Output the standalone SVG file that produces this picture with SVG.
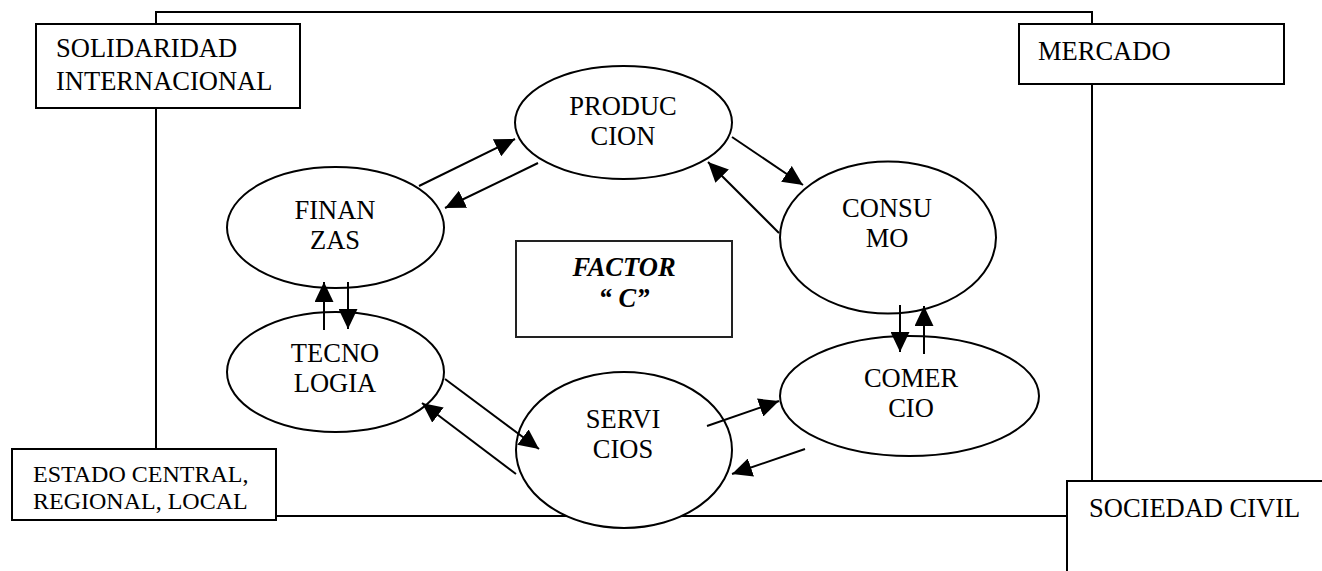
<svg xmlns="http://www.w3.org/2000/svg" width="1322" height="571" viewBox="0 0 1322 571">
<defs>
<style>
.ln{stroke:#000;stroke-width:2;fill:none}
.bx{stroke:#000;stroke-width:2;fill:#fff}
.el{stroke:#000;stroke-width:2;fill:#fff}
.t{font-family:"Liberation Serif","Times New Roman",serif;font-size:26.5px;fill:#000}
.tc{text-anchor:middle}
.ar{stroke:#000;stroke-width:2;fill:none;marker-end:url(#ah)}
.fc{font-weight:bold;font-style:italic}
</style>
<marker id="ah" markerUnits="userSpaceOnUse" markerWidth="21" markerHeight="19" refX="20" refY="9.5" orient="auto" viewBox="0 0 21 19">
<path d="M0,0 L20,9.5 L0,19 z" fill="#000"/>
</marker>
</defs>
<rect width="1322" height="571" fill="#fff"/>
<g id="frame">
<rect class="ln" x="156" y="12" width="936" height="504"/>
</g>
<g id="solidaridad">
<rect class="bx" x="36" y="24" width="264" height="84"/>
<text class="t" x="56" y="57">SOLIDARIDAD</text>
<text class="t" x="56" y="90">INTERNACIONAL</text>
</g>
<g id="mercado">
<rect class="bx" x="1019" y="24" width="265" height="60"/>
<text class="t" x="1038" y="60">MERCADO</text>
</g>
<g id="estado">
<rect class="bx" x="12" y="449" width="264" height="71"/>
<text class="t" x="33" y="482" style="font-size:24px">ESTADO CENTRAL,</text>
<text class="t" x="33" y="509" style="font-size:24px">REGIONAL, LOCAL</text>
</g>
<g id="sociedad">
<rect class="bx" x="1067" y="481" width="270" height="110"/>
<text class="t" x="1089" y="517">SOCIEDAD CIVIL</text>
</g>
<g id="factor">
<rect class="bx" x="516" y="241" width="216" height="96" style="stroke:#222"/>
<text class="t tc fc" x="624" y="276">FACTOR</text>
<text class="t tc fc" x="624" y="307">“ C”</text>
</g>
<g id="produccion">
<ellipse class="el" cx="623.5" cy="122.5" rx="108.5" ry="56.5"/>
<text class="t tc" x="623" y="115">PRODUC</text>
<text class="t tc" x="623" y="145">CION</text>
</g>
<g id="finanzas">
<ellipse class="el" cx="335.5" cy="227.5" rx="108.5" ry="60.5"/>
<text class="t tc" x="335" y="219">FINAN</text>
<text class="t tc" x="335" y="249">ZAS</text>
</g>
<g id="tecnologia">
<ellipse class="el" cx="335.5" cy="372" rx="108.5" ry="60"/>
<text class="t tc" x="335" y="362">TECNO</text>
<text class="t tc" x="335" y="392">LOGIA</text>
</g>
<g id="servicios">
<ellipse class="el" cx="624" cy="450" rx="108" ry="78"/>
<text class="t tc" x="623" y="428">SERVI</text>
<text class="t tc" x="623" y="458">CIOS</text>
</g>
<g id="consumo">
<ellipse class="el" cx="888" cy="237.5" rx="108" ry="76"/>
<text class="t tc" x="887" y="217">CONSU</text>
<text class="t tc" x="887" y="247">MO</text>
</g>
<g id="comercio">
<ellipse class="el" cx="909.5" cy="396" rx="129.5" ry="60"/>
<text class="t tc" x="911" y="387">COMER</text>
<text class="t tc" x="911" y="417">CIO</text>
</g>
<g id="connectors">
<line class="ar" x1="419" y1="186" x2="515" y2="139"/>
<line class="ar" x1="538" y1="163" x2="445" y2="208"/>
<line class="ar" x1="732" y1="137" x2="803" y2="185"/>
<line class="ar" x1="779" y1="233" x2="708" y2="162"/>
<line class="ar" x1="324" y1="330" x2="324" y2="282"/>
<line class="ar" x1="348" y1="282" x2="348" y2="329"/>
<line class="ar" x1="900" y1="305" x2="900" y2="352"/>
<line class="ar" x1="924" y1="354" x2="924" y2="306"/>
<line class="ar" x1="445" y1="379" x2="539" y2="449"/>
<line class="ar" x1="516" y1="474" x2="422" y2="403"/>
<line class="ar" x1="707" y1="426" x2="779" y2="401"/>
<line class="ar" x1="805" y1="449" x2="732" y2="474"/>
</g>
</svg>
